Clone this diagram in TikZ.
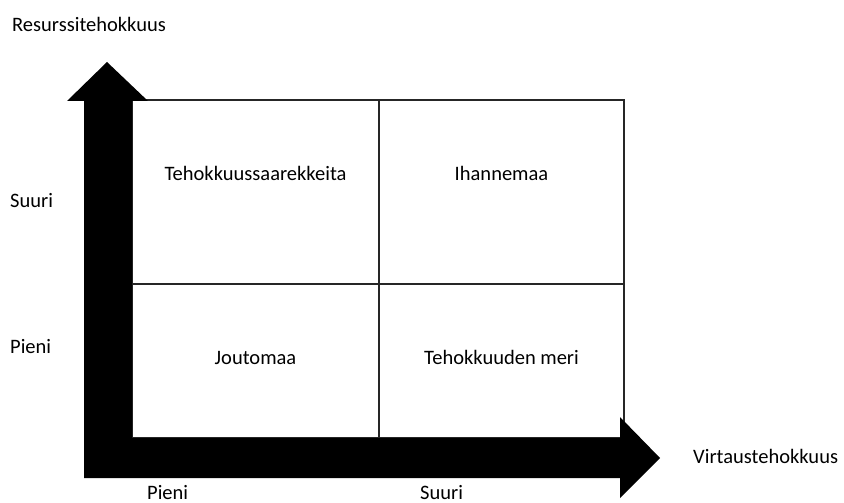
\documentclass[tikz,border=0pt]{standalone}
\usepackage{fontspec}
\setmainfont{Carlito}
\begin{document}
\begin{tikzpicture}[x=1pt,y=-1pt,
  lbl/.style={inner sep=0pt,font=\fontsize{20.5}{24}\selectfont},
  gridline/.style={line width=1.2pt,draw=black!85}]
\useasboundingbox (0,0) rectangle (844,503);
% grid
\draw[gridline] (132,100) rectangle (624,438);
\draw[gridline] (379,100) -- (379,438);
\draw[gridline] (132,284) -- (624,284);
% axes arrow
\fill[black] (84,478) -- (84,101) -- (67,101) -- (107,62) -- (148,101) -- (132,101)
  -- (132,438) -- (620,438) -- (620,417) -- (660,458) -- (620,498) -- (620,478) -- cycle;
% labels
\node[lbl,anchor=base west] (ylab) at (12,32) {Resurssitehokkuus};
\node[lbl,anchor=base west] (ysuuri) at (10,207) {Suuri};
\node[lbl,anchor=base west] (ypieni) at (10,353) {Pieni};
\node[lbl,anchor=base west] (xpieni) at (147,499.5) {Pieni};
\node[lbl,anchor=base west] (xsuuri) at (420,499.5) {Suuri};
\node[lbl,anchor=base west] (xlab) at (693,463) {Virtaustehokkuus};
% cells
\node[lbl,anchor=base] (c1) at (255.5,180) {Tehokkuussaarekkeita};
\node[lbl,anchor=base] (c2) at (501.5,180) {Ihannemaa};
\node[lbl,anchor=base] (c3) at (255.5,364) {Joutomaa};
\node[lbl,anchor=base] (c4) at (501.5,364) {Tehokkuuden meri};
\end{tikzpicture}
\end{document}
